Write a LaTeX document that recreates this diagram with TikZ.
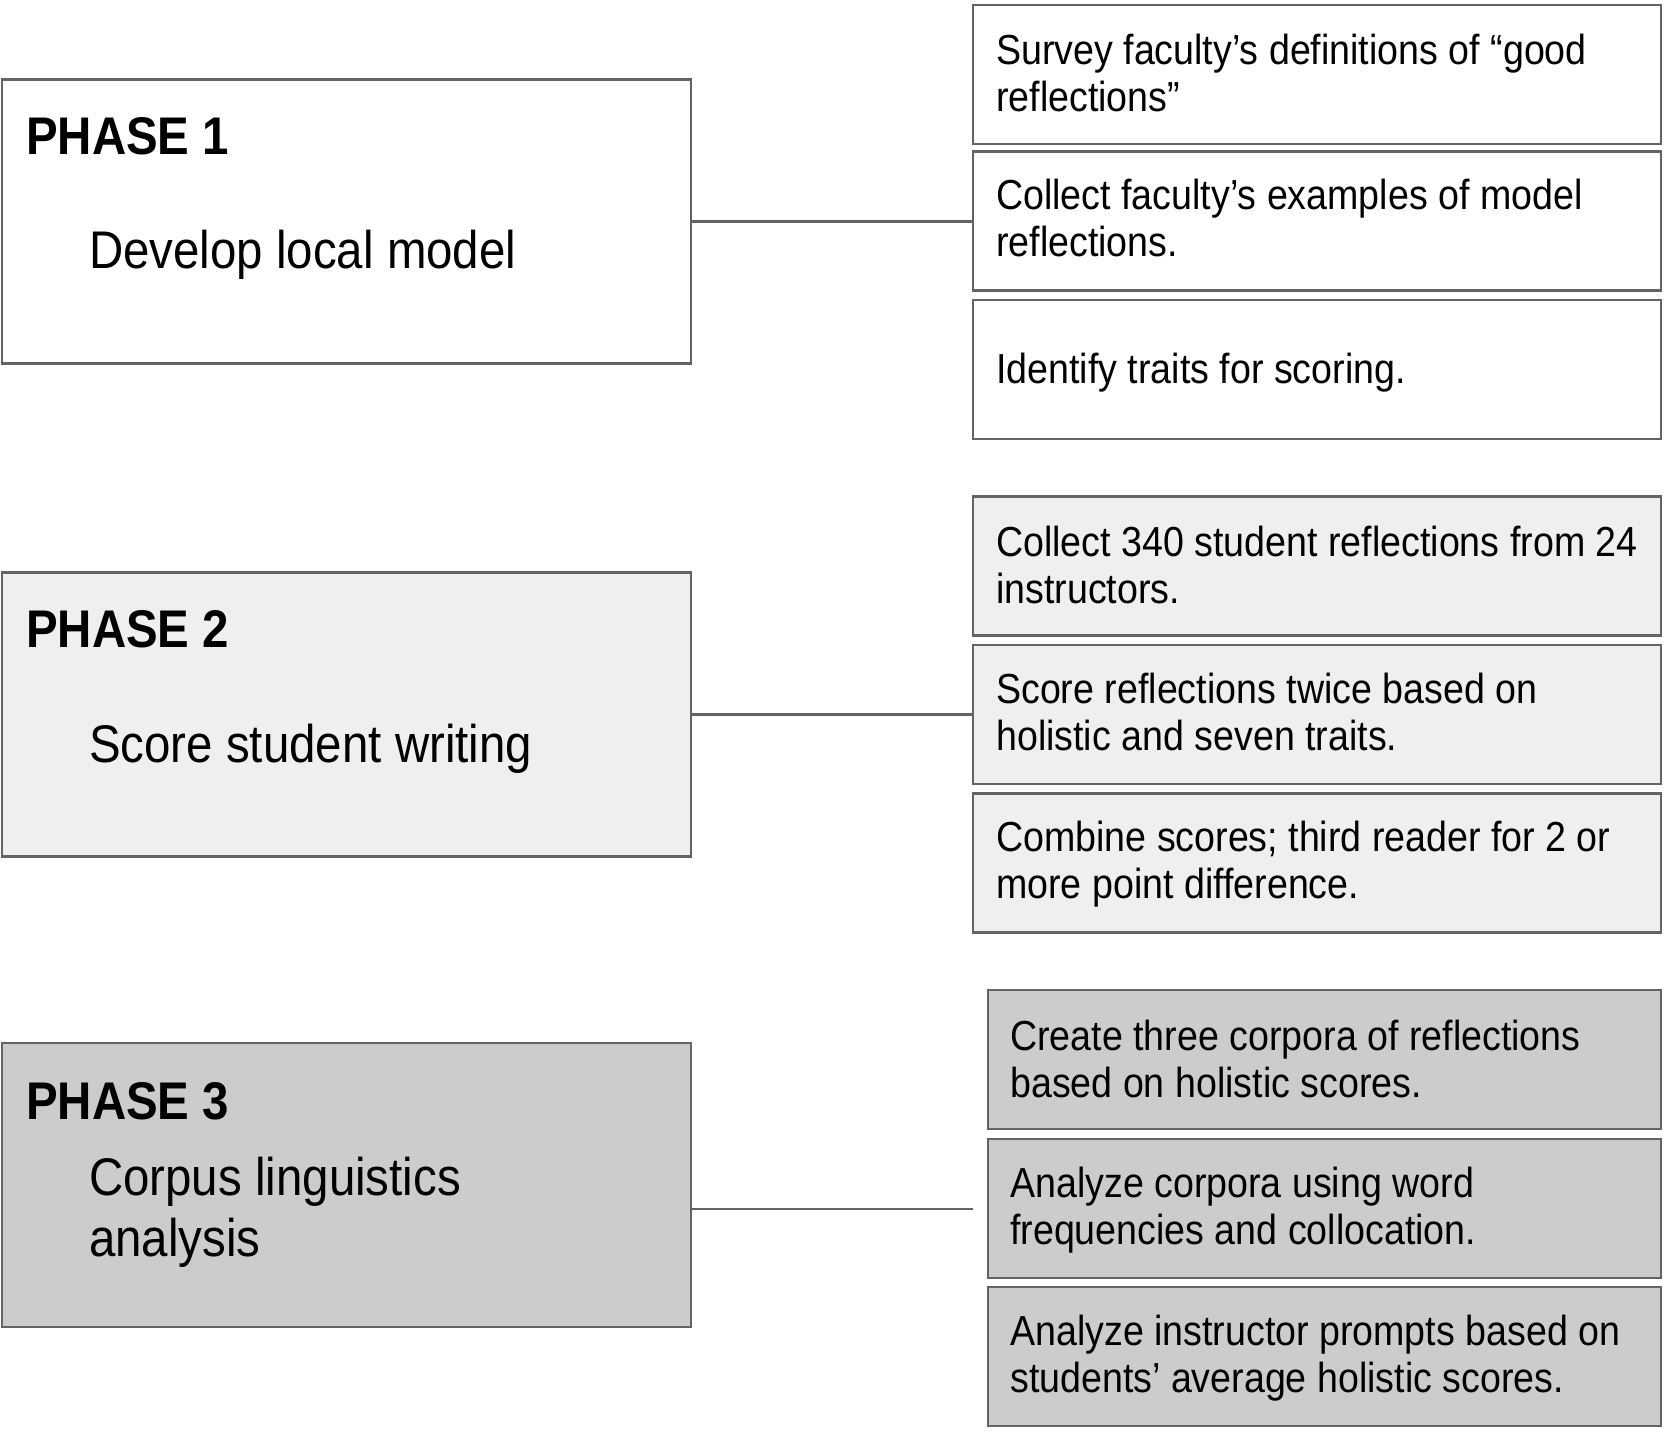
\documentclass[tikz,border=0pt]{standalone}
\usepackage{fontspec}
\setmainfont{Liberation Sans}[FakeStretch=0.895]
\definecolor{bord}{RGB}{100,100,100}
\definecolor{fillA}{RGB}{239,239,239}
\definecolor{fillB}{RGB}{204,204,204}
\begin{document}
\begin{tikzpicture}[x=1pt,y=-1pt,
  box/.style={draw=bord,line width=2.2pt,rectangle,inner sep=0pt,outer sep=0pt},
  phasebox/.style={box,minimum width=689pt,minimum height=284pt},
  stepbox/.style={box,minimum width=688pt,minimum height=139pt},
  stepboxB/.style={box,minimum width=673pt,minimum height=139pt},
  phasetitle/.style={anchor=base west,inner sep=0pt,font=\fontsize{53}{60}\selectfont\bfseries},
  phasename/.style={anchor=base west,inner sep=0pt,align=left,font=\fontsize{53}{61}\selectfont},
  steptext/.style={anchor=base west,inner sep=0pt,align=left,font=\fontsize{42}{47}\selectfont},
  conn/.style={draw=bord,line width=2.2pt}]
\useasboundingbox (0,0) rectangle (1666,1432);

% Phase boxes
\node[phasebox,fill=white] (p1) at (346.5,221.5) {};
\node[phasebox,fill=fillA] (p2) at (346.5,714.5) {};
\node[phasebox,fill=fillB] (p3) at (346.5,1185) {};

\node[phasetitle] (p1t) at (26,154) {PHASE 1};
\node[phasename] (p1n) at (89,268) {Develop local model};
\node[phasetitle] (p2t) at (26,647) {PHASE 2};
\node[phasename] (p2n) at (89,762) {Score student writing};
\node[phasetitle] (p3t) at (26,1119) {PHASE 3};
\node[phasename] (p3n) at (89,1256) {Corpus linguistics\\analysis};

% Step boxes, phase 1
\node[stepbox,fill=white] (r1a) at (1317,74.5) {};
\node[stepbox,fill=white] (r1b) at (1317,221) {};
\node[stepbox,fill=white] (r1c) at (1317,369.5) {};
\node[steptext] (r1at) at (996,111) {Survey faculty’s definitions of “good\\reflections”};
\node[steptext] (r1bt) at (996,256) {Collect faculty’s examples of model\\reflections.};
\node[steptext] (r1ct) at (996,383) {Identify traits for scoring.};

% Step boxes, phase 2
\node[stepbox,fill=fillA] (r2a) at (1317,566) {};
\node[stepbox,fill=fillA] (r2b) at (1317,714.5) {};
\node[stepbox,fill=fillA] (r2c) at (1317,863) {};
\node[steptext] (r2at) at (996,603) {Collect 340 student reflections from 24\\instructors.};
\node[steptext] (r2bt) at (996,750) {Score reflections twice based on\\holistic and seven traits.};
\node[steptext] (r2ct) at (996,898) {Combine scores; third reader for 2 or\\more point difference.};

% Step boxes, phase 3
\node[stepboxB,fill=fillB] (r3a) at (1324.5,1059.5) {};
\node[stepboxB,fill=fillB] (r3b) at (1324.5,1208.5) {};
\node[stepboxB,fill=fillB] (r3c) at (1324.5,1356.5) {};
\node[steptext] (r3at) at (1010,1097) {Create three corpora of reflections\\based on holistic scores.};
\node[steptext] (r3bt) at (1010,1244) {Analyze corpora using word\\frequencies and collocation.};
\node[steptext] (r3ct) at (1010,1392) {Analyze instructor prompts based on\\students’ average holistic scores.};

% Connectors
\draw[conn] (p1.east) -- (p1.east -| r1b.west);
\draw[conn] (p2.east) -- (p2.east -| r2b.west);
\coordinate (c3) at (973,1209);
\draw[conn] (p3.east |- c3) -- (c3);
\end{tikzpicture}
\end{document}
